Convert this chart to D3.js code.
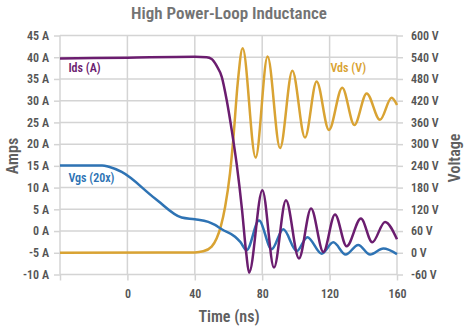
<!DOCTYPE html>
<html>
<head>
<meta charset="utf-8">
<script src="https://cdn.jsdelivr.net/npm/d3@7/dist/d3.min.js"></script>
<style>
  html, body { margin: 0; padding: 0; background: #fff; }
  svg { display: block; }
  text { font-family: Roboto, "Open Sans", sans-serif; font-stretch: condensed; }
</style>
</head>
<body>
<svg id="chart" width="467" height="330"></svg>
<script>
// ---- Data ----
const idsTime = [-40, 0, 40, 47, 50, 53, 56, 59, 62, 65, 68, 70.5, 72.2, 80.1, 87, 94.1, 101.8, 109, 116.3, 123.2, 130.1, 138.6, 145.3, 152.9, 160];
const idsAmps = [39.7, 39.9, 40.1, 40.0, 39.6, 38, 35.5, 30, 23, 15, 5, -5, -9.6, 9.4, -8.4, 7.1, -6.3, 5.2, -4.8, 3.8, -3.5, 2.9, -2.6, 2.1, -1.9];

const vdsTime = [-40, 40, 45, 50, 53, 55.4, 58, 60.9, 62.8, 65.5, 68.4, 76.1, 83.2, 90.6, 97.9, 105.4, 112.3, 119.6, 127.5, 134.7, 142, 149.9, 156.8, 160];
const vdsVolts = [0, 1, 4, 17, 40, 72, 127, 220, 311, 470, 565, 263, 542, 289, 503, 318, 473, 339, 456, 353, 440, 367, 428, 408];

const vgsTime = [-40, -15, -11, -3.4, 16.4, 32.2, 40, 48, 52, 56, 63.9, 67, 70.8, 78.1, 85.6, 92.5, 100.5, 106.8, 115.3, 122.2, 129.5, 137, 144, 151.9, 160];
const vgsScaled = [15.1, 15.1, 14.8, 13.6, 7.5, 3.1, 2.7, 2.1, 1.4, 0.4, -1.3, -2.5, -4.4, 2.4, -4.2, 0.4, -4.6, -1.4, -5.2, -2.6, -5.4, -3.2, -5.4, -4.0, -5.3];

const timeTicks = [0, 40, 80, 120, 160];
const ampTicks = [45, 40, 35, 30, 25, 20, 15, 10, 5, 0, -5, -10];
const voltTicks = [600, 540, 480, 420, 360, 300, 240, 180, 120, 60, 0, -60];

const titleText = "High Power-Loop Inductance";
const seriesNames = ["Ids (A)", "Vds (V)", "Vgs (20x)"];

// ---- Layout ----
const svg = d3.select("#chart");
const L = 60, R = 397, T = 35.5, B = 274.5;
const gridColor = "#d4d4d4";
const textColor = "#555555";
const colIds = "#6b1d6f", colVds = "#d9a333", colVgs = "#2e73b4";

const x = d3.scaleLinear().domain([-40, 160]).range([L, R]);
const yA = d3.scaleLinear().domain([-10, 45]).range([B, T]);
const yV = d3.scaleLinear().domain([-60, 600]).range([B, T]);

// grid
const grid = svg.append("g");
grid.selectAll("line.h").data(ampTicks).join("line")
  .attr("x1", L).attr("x2", R)
  .attr("y1", d => yA(d)).attr("y2", d => yA(d))
  .attr("stroke", gridColor).attr("stroke-width", 1.5);
grid.selectAll("line.v").data([-40].concat(timeTicks)).join("line")
  .attr("x1", d => x(d)).attr("x2", d => x(d))
  .attr("y1", T).attr("y2", B)
  .attr("stroke", gridColor).attr("stroke-width", 1.5);

// axes
function styleAxis(g) {
  g.select(".domain").remove();
  g.selectAll(".tick line").attr("stroke", gridColor).attr("stroke-width", 1.5);
  g.selectAll(".tick text").attr("fill", textColor)
    .style("font-size", "12px").style("font-weight", "600");
}
svg.append("g").attr("transform", `translate(${L},0)`)
  .call(d3.axisLeft(yA).tickValues(ampTicks).tickSize(6).tickPadding(5).tickFormat(d => d + " A"))
  .call(styleAxis);
svg.append("g").attr("transform", `translate(${R},0)`)
  .call(d3.axisRight(yV).tickValues(voltTicks).tickSize(6).tickPadding(8).tickFormat(d => d + " V"))
  .call(styleAxis);
svg.append("g").attr("transform", `translate(0,${B})`)
  .call(d3.axisBottom(x).tickValues([-40].concat(timeTicks)).tickSize(6).tickPadding(9)
    .tickFormat(d => d === -40 ? "" : d))
  .call(styleAxis);

// lines
const mk = (tArr, vArr, yS) => d3.line()
  .x((d, i) => x(tArr[i])).y((d, i) => yS(vArr[i]))
  .curve(d3.curveMonotoneX)(vArr);

svg.append("path").attr("d", mk(vdsTime, vdsVolts, yV))
  .attr("fill", "none").attr("stroke", colVds).attr("stroke-width", 2.5);
svg.append("path").attr("d", mk(vgsTime, vgsScaled, yA))
  .attr("fill", "none").attr("stroke", colVgs).attr("stroke-width", 2.5);
svg.append("path").attr("d", mk(idsTime, idsAmps, yA))
  .attr("fill", "none").attr("stroke", colIds).attr("stroke-width", 2.5);

// series labels
const lab = (txt, px, py, c) => svg.append("text").text(txt)
  .attr("x", px).attr("y", py).attr("fill", c)
  .style("font-size", "12px").style("font-weight", "600");
lab(seriesNames[0], x(-35), yA(37.5) + 4, colIds);
lab(seriesNames[1], x(120.5), yA(37.5) + 4, colVds);
lab(seriesNames[2], x(-35), yA(12.1) + 4, colVgs);

// title and axis titles
svg.append("text").text(titleText)
  .attr("x", 229).attr("y", 19).attr("text-anchor", "middle")
  .attr("fill", "#737373").style("font-size", "17px").style("font-weight", "600");
svg.append("text").text("Time (ns)")
  .attr("x", 229).attr("y", 322).attr("text-anchor", "middle")
  .attr("fill", "#5f5f5f").style("font-size", "16px").style("font-weight", "600");
svg.append("text").text("Amps")
  .attr("transform", `translate(18,156) rotate(-90)`).attr("text-anchor", "middle")
  .attr("fill", "#5f5f5f").style("font-size", "16px").style("font-weight", "600");
svg.append("text").text("Voltage")
  .attr("transform", `translate(460,158) rotate(-90)`).attr("text-anchor", "middle")
  .attr("fill", "#5f5f5f").style("font-size", "16px").style("font-weight", "600");
</script>
</body>
</html>
